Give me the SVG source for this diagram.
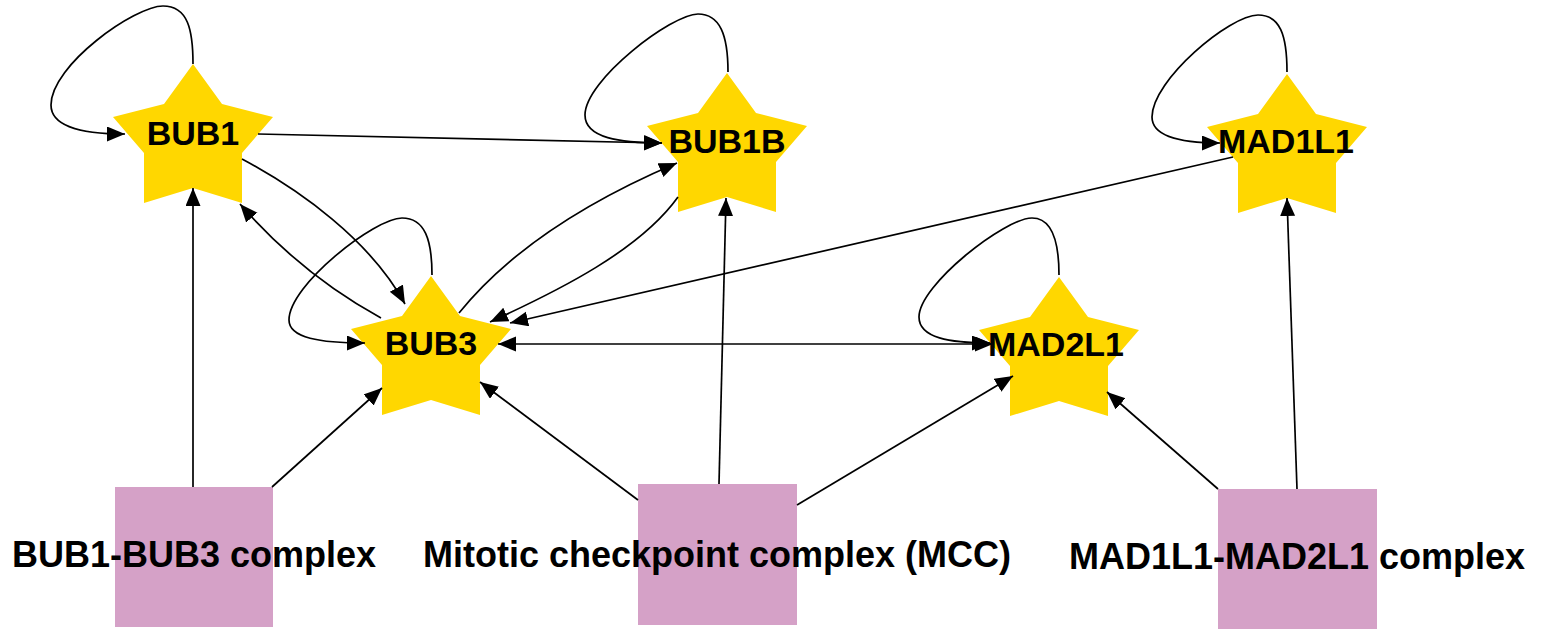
<svg xmlns="http://www.w3.org/2000/svg" width="1548" height="630" viewBox="0 0 1548 630">
<style>
.star{fill:#FFD700;stroke:none}
.box{fill:#D5A1C7;stroke:none}
.lbl{font-family:"Liberation Sans",Arial,Helvetica,sans-serif;font-weight:bold;fill:#000;text-anchor:middle}
.sl{font-size:34px}
.bl{font-size:36px}
.e{fill:none;stroke:#000;stroke-width:1.7;marker-end:url(#ah)}
.bi{marker-start:url(#ah)}
</style>
<defs>
<marker id="ah" markerUnits="userSpaceOnUse" markerWidth="19" markerHeight="16" refX="18" refY="7.5" orient="auto-start-reverse">
<path d="M0,0 L18,7.5 L0,15 Z" fill="#000"/>
</marker>
<polygon id="starShape" points="0,0 29,40 80,53 49,89 49,139 0,124 -49,139 -49,89 -80,53 -29,40"/>
</defs>
<rect width="1548" height="630" fill="#fff"/>
<g id="nodes">
<g id="BUB1"><use href="#starShape" class="star" transform="translate(193,64)"/><text class="lbl sl" x="193" y="145">BUB1</text></g>
<g id="BUB1B"><use href="#starShape" class="star" transform="translate(727,73)"/><text class="lbl sl" x="727" y="153">BUB1B</text></g>
<g id="MAD1L1"><use href="#starShape" class="star" transform="translate(1287,74)"/><text class="lbl sl" x="1286" y="153">MAD1L1</text></g>
<g id="BUB3"><use href="#starShape" class="star" transform="translate(431,276)"/><text class="lbl sl" x="431" y="355">BUB3</text></g>
<g id="MAD2L1"><use href="#starShape" class="star" transform="translate(1059,277)"/><text class="lbl sl" x="1056" y="356">MAD2L1</text></g>
<g id="BUB1-BUB3"><rect class="box" x="115" y="487" width="158" height="140"/><text class="lbl bl" x="194" y="567">BUB1-BUB3 complex</text></g>
<g id="MCC"><rect class="box" x="638" y="484" width="159" height="141"/><text class="lbl bl" x="717" y="567">Mitotic checkpoint complex (MCC)</text></g>
<g id="MAD1L1-MAD2L1"><rect class="box" x="1218" y="489" width="159" height="140"/><text class="lbl bl" x="1297" y="569">MAD1L1-MAD2L1 complex</text></g>
</g>
<g id="connectors">
<path class="e" d="M193,64 C193,30 188,6 163,6 C135,6 51,65 51,105 C51,128 85,134 125,134"/>
<path class="e" d="M258,134 L662,143"/>
<path class="e" d="M728,72 C728,35 720,14 698,14 C672,14 585,80 585,115 C585,138 620,143 662,143"/>
<path class="e" d="M242,159 C300,190 370,240 405,304"/>
<path class="e" d="M381,318 C330,290 280,250 240,204"/>
<path class="e" d="M432,275 C432,240 425,218 402,218 C375,218 289,285 289,320 C289,338 320,343 365,343"/>
<path class="e" d="M459,313 C510,250 590,200 677,163"/>
<path class="e" d="M678,197 C640,250 560,290 490,322"/>
<path class="e" d="M1233,157 L510,323"/>
<path class="e" d="M1287,72 C1287,35 1280,15 1258,15 C1230,15 1152,80 1152,117 C1152,138 1185,143 1220,143"/>
<path class="e bi" d="M498,344 L993,344"/>
<path class="e" d="M1059,275 C1059,240 1052,218 1032,218 C1005,218 919,285 919,317 C919,338 950,343 990,343"/>
<path class="e" d="M193,487 L193,188"/>
<path class="e" d="M272,487 L382,388"/>
<path class="e" d="M638,500 L480,382"/>
<path class="e" d="M719,484 L726,198"/>
<path class="e" d="M797,505 L1013,376"/>
<path class="e" d="M1218,489 L1107,392"/>
<path class="e" d="M1297,489 L1287,198"/>
</g>
</svg>
